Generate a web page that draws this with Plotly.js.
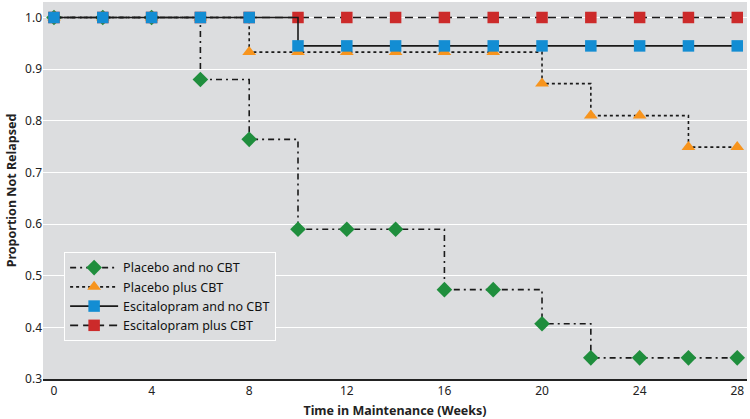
<!DOCTYPE html>
<html>
<head>
<meta charset="utf-8">
<script src="https://cdn.plot.ly/plotly-3.0.1.min.js"></script>
<style>html,body{margin:0;padding:0;background:#fff;}#chart{width:750px;height:419px;}</style>
</head>
<body>
<div id="chart"></div>
<script>
const weeks = [0, 2, 4, 6, 8, 10, 12, 14, 16, 18, 20, 22, 24, 26, 28];
const placeboNoCBT = [1.0, 1.0, 1.0, 0.88, 0.764, 0.59, 0.59, 0.59, 0.473, 0.473, 0.407, 0.341, 0.341, 0.341, 0.341];
const placeboPlusCBT = [1.0, 1.0, 1.0, 1.0, 0.933, 0.933, 0.933, 0.933, 0.933, 0.933, 0.872, 0.81, 0.81, 0.749, 0.749];
const escitalopramNoCBT = [1.0, 1.0, 1.0, 1.0, 1.0, 0.945, 0.945, 0.945, 0.945, 0.945, 0.945, 0.945, 0.945, 0.945, 0.945];
const escitalopramPlusCBT = [1.0, 1.0, 1.0, 1.0, 1.0, 1.0, 1.0, 1.0, 1.0, 1.0, 1.0, 1.0, 1.0, 1.0, 1.0];
const seriesNames = ["Placebo and no CBT", "Placebo plus CBT", "Escitalopram and no CBT", "Escitalopram plus CBT"];
const xTicks = [0, 4, 8, 12, 16, 20, 24, 28];
const yTicks = [0.3, 0.4, 0.5, 0.6, 0.7, 0.8, 0.9, 1.0];

const lineCol = '#1a1a1a';
function tr(y, name, dash, sym, col, size, rank) {
  return {
    x: weeks, y: y, name: name, type: 'scatter', mode: 'lines+markers',
    line: {shape: 'hv', color: lineCol, width: 1.6, dash: dash},
    marker: {symbol: sym, color: col, size: size, line: {width: 0}},
    legendrank: rank
  };
}
const data = [
  tr(placeboNoCBT, seriesNames[0], '6px,4px,2px,4px', 'diamond', '#1f8e3d', 12, 1),
  tr(placeboPlusCBT, seriesNames[1], 'dot', 'triangle-up', '#f7941d', 12, 2),
  tr(escitalopramPlusCBT, seriesNames[3], '8px,5px', 'square', '#cc2a2a', 11.5, 4),
  tr(escitalopramNoCBT, seriesNames[2], 'solid', 'square', '#138dd3', 11.5, 3)
];
const layout = {
  width: 750, height: 419,
  margin: {l: 43, r: 3, t: 2, b: 40},
  paper_bgcolor: '#ffffff', plot_bgcolor: '#dcdddf',
  font: {family: 'Noto Sans, sans-serif', size: 12, color: '#222'},
  showlegend: true,
  legend: {
    x: 0.03, y: 0.337, xanchor: 'left', yanchor: 'top',
    bgcolor: '#dcdddf', bordercolor: '#ffffff', borderwidth: 1,
    font: {size: 12.5, color: '#111'}, itemwidth: 48, tracegroupgap: 0
  },
  xaxis: {
    range: [-0.45, 28.4], tickvals: xTicks, ticktext: xTicks.map(String),
    showgrid: false, zeroline: false, showline: true, linecolor: '#222', linewidth: 2,
    ticks: '', tickfont: {size: 12},
    title: {text: '<b>Time in Maintenance (Weeks)</b>', font: {size: 12.5}, standoff: 8}
  },
  yaxis: {
    range: [0.3, 1.03], tickvals: yTicks, ticktext: yTicks.map(v => v.toFixed(1)),
    showgrid: true, gridcolor: '#ffffff', gridwidth: 1, zeroline: false, showline: false,
    ticks: '', tickfont: {size: 12},
    title: {text: '<b>Proportion Not Relapsed</b>', font: {size: 12.5}, standoff: 5}
  }
};
Plotly.newPlot('chart', data, layout, {displayModeBar: false, staticPlot: true});
</script>
</body>
</html>
